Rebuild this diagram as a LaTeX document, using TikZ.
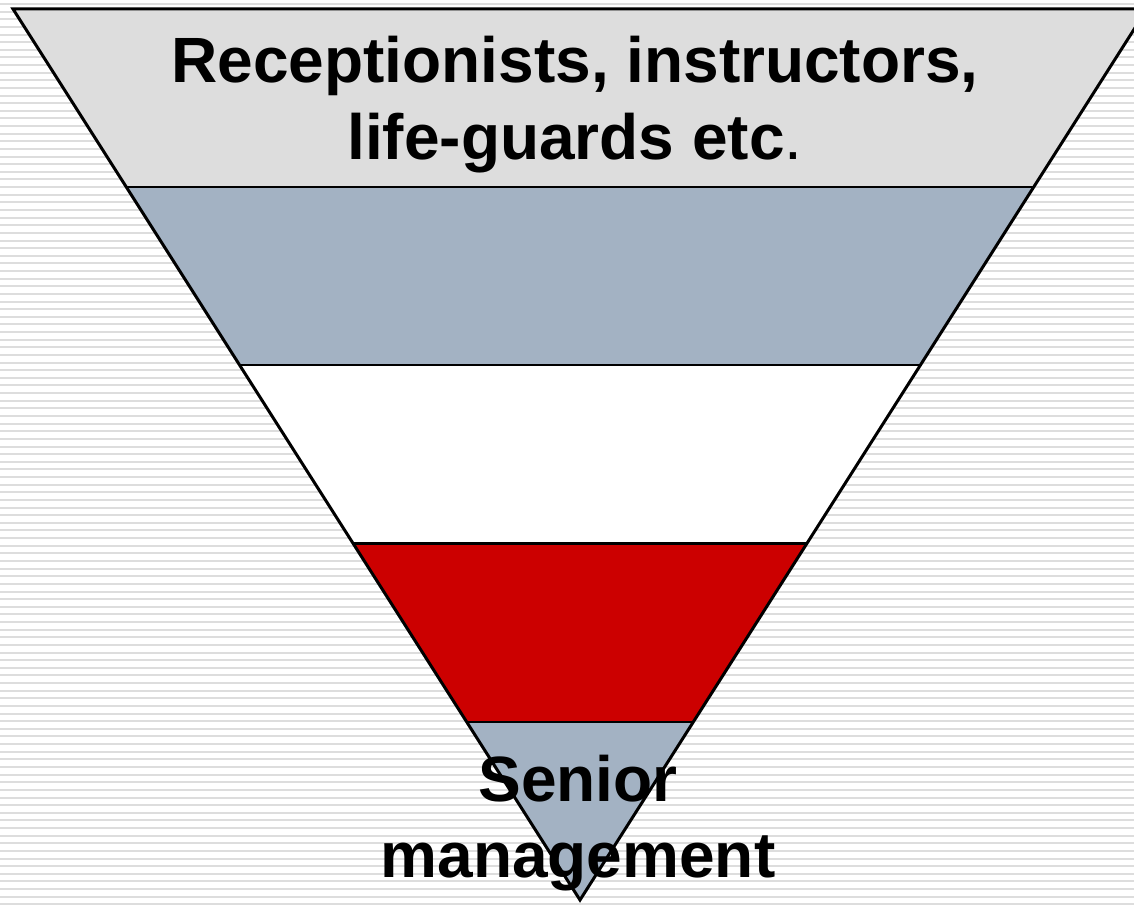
\documentclass[tikz,border=0pt]{standalone}
\usepackage{fontspec}
\setmainfont{Liberation Sans}
\usepackage{tikz}

\definecolor{bandgray}{HTML}{DDDDDD}
\definecolor{bandblue}{HTML}{A3B2C3}
\definecolor{bandred}{HTML}{CC0000}
\definecolor{rulegray}{HTML}{DDDDDD}

\begin{document}
\begin{tikzpicture}[x=1pt,y=1pt,line join=miter]
  \def\Xc{580}   % apex x
  \def\Ya{4}     % apex y
  \def\Hw{567}   % half width at the top
  \def\Ht{891}   % height of the triangle
  \useasboundingbox (0,0) rectangle (1134,904);

  % ================= ruled background =================
  \foreach \k in {0,...,118} {
    \draw[rulegray,line width=2pt] (0,900-7.63*\k) -- (1134,900-7.63*\k);
  }

  % ================= bands of the inverted pyramid =================
  \foreach \i/\col in {0/bandgray,1/bandblue,2/white,3/bandred,4/bandblue} {
    \pgfmathsetmacro{\yt}{\Ya+\Ht*(5-\i)/5}
    \pgfmathsetmacro{\yb}{\Ya+\Ht*(4-\i)/5}
    \pgfmathsetmacro{\wt}{\Hw*(5-\i)/5}
    \pgfmathsetmacro{\wb}{\Hw*(4-\i)/5}
    \fill[\col] (\Xc-\wt,\yt) -- (\Xc+\wt,\yt) -- (\Xc+\wb,\yb) -- (\Xc-\wb,\yb) -- cycle;
  }

  % ================= labels =================
  % base anchor sits on the last line
  \node[font=\fontsize{64}{77}\selectfont\bfseries,align=center,anchor=base] (staff)
    at (575,744) {Receptionists, instructors,\\life-guards etc{\mdseries.}};
  \node[font=\fontsize{64}{75}\selectfont\bfseries,align=center,anchor=base] (senior)
    at (578,27) {Senior\\management};

  % ================= outline and dividing lines =================
  \foreach \i in {1,...,4} {
    \pgfmathsetmacro{\yl}{\Ya+\Ht*(5-\i)/5}
    \pgfmathsetmacro{\wl}{\Hw*(5-\i)/5}
    \draw[line width=2.2pt] (\Xc-\wl,\yl) -- (\Xc+\wl,\yl);
  }
  \draw[line width=3pt] (\Xc-\Hw,\Ya+\Ht) -- (\Xc+\Hw,\Ya+\Ht) -- (\Xc,\Ya) -- cycle;
\end{tikzpicture}
\end{document}
